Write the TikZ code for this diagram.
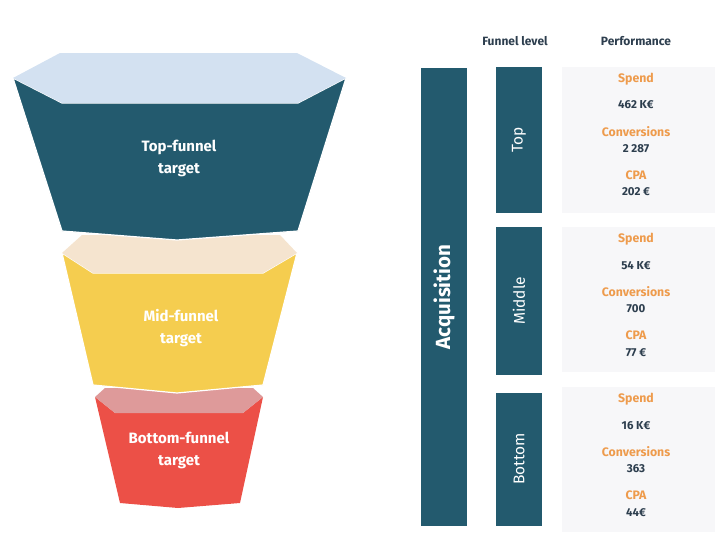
\documentclass[tikz,border=0pt]{standalone}
\usepackage{fontspec}
\setmainfont{Fira Sans}
\usetikzlibrary{positioning}

\definecolor{funneldark}{HTML}{235A6E}
\definecolor{toplight}{HTML}{D3E1F1}
\definecolor{midlight}{HTML}{F5E4CF}
\definecolor{midbody}{HTML}{F5CD4F}
\definecolor{botlight}{HTML}{DE9A9A}
\definecolor{botbody}{HTML}{EC5047}
\definecolor{perfbg}{HTML}{F7F7F9}
\definecolor{metric}{HTML}{EE9B4C}
\definecolor{valtext}{HTML}{2D3E4E}

\tikzset{
    funnellabel/.style={text=white, font=\fontsize{15}{22}\selectfont\bfseries, align=center},
    bar/.style={fill=funneldark, draw=none},
    perfbox/.style={fill=perfbg, draw=none},
    header/.style={text=valtext, font=\fontsize{12}{14}\selectfont\bfseries},
    metricname/.style={text=metric, font=\fontsize{12.3}{14}\selectfont\bfseries},
    metricval/.style={text=valtext, font=\fontsize{11.5}{14}\selectfont\bfseries},
    levelname/.style={text=white, rotate=90, font=\fontsize{15.5}{18}\selectfont}
}

\begin{document}
\begin{tikzpicture}[x=1pt, y=-1pt]
    \useasboundingbox (0,0) rectangle (717,538);

    % bottom funnel
    \fill[botbody] (95,397) -- (115,413) -- (243,413) -- (263,397)
        -- (240,503) -- (178,508) -- (120,503) -- cycle;
    \fill[botlight] (105,388) -- (253,388) -- (263,397) -- (243,413)
        -- (115,413) -- (95,397) -- cycle;

    % middle funnel
    \fill[midbody, draw=white, line width=1.2pt] (62,253) -- (93,273) -- (263,273) -- (297,253)
        -- (263,385) -- (177,393) -- (93,385) -- cycle;
    \fill[midlight] (82,235) -- (280,235) -- (297,253) -- (263,273)
        -- (93,273) -- (62,253) -- cycle;

    % top funnel
    \fill[funneldark, draw=white, line width=1.2pt] (13,78) -- (62,103) -- (298,103) -- (346,78)
        -- (298,231) -- (177,240) -- (62,231) -- cycle;
    \fill[toplight] (60,53) -- (297,53) -- (346,78) -- (298,103)
        -- (62,103) -- (13,78) -- cycle;

    \node[funnellabel] (toplabel) at (179,158) {Top-funnel\\target};
    \node[funnellabel] (midlabel) at (181,328) {Mid-funnel\\target};
    \node[funnellabel] (botlabel) at (179,450) {Bottom-funnel\\target};

    % table headers
    \node[header] (levelhead) at (515,41) {Funnel level};
    \node[header] (perfhead) at (636,41) {Performance};

    % acquisition bar
    \fill[bar] (421,68) rectangle (467,526);
    \node[text=white, rotate=90, font=\fontsize{20.5}{24}\selectfont\bfseries] (acq) at (444,297) {Acquisition};

    % funnel level bars
    \fill[bar] (496,67) rectangle (542,213);
    \node[levelname] (top) at (519,140) {Top};
    \fill[bar] (496,227) rectangle (542,375);
    \node[levelname] (middle) at (519,301) {Middle};
    \fill[bar] (496,393) rectangle (542,526);
    \node[levelname] (bottom) at (519,459) {Bottom};

    % performance boxes
    \fill[perfbox] (562,67) rectangle (715,213);
    \node[metricname] (spendA) at (636,79) {Spend};
    \node[metricval] (spendAval) at (636,105) {462 K€};
    \node[metricname] (convA) at (636,132) {Conversions};
    \node[metricval] (convAval) at (636,149) {2 287};
    \node[metricname] (cpaA) at (636,175) {CPA};
    \node[metricval] (cpaAval) at (636,192) {202 €};

    \fill[perfbox] (562,227) rectangle (715,372);
    \node[metricname] (spendB) at (636,239) {Spend};
    \node[metricval] (spendBval) at (636,266) {54 K€};
    \node[metricname] (convB) at (636,292) {Conversions};
    \node[metricval] (convBval) at (636,309) {700};
    \node[metricname] (cpaB) at (636,335) {CPA};
    \node[metricval] (cpaBval) at (636,353) {77 €};

    \fill[perfbox] (562,387) rectangle (715,532);
    \node[metricname] (spendC) at (636,399) {Spend};
    \node[metricval] (spendCval) at (636,426) {16 K€};
    \node[metricname] (convC) at (636,452) {Conversions};
    \node[metricval] (convCval) at (636,469) {363};
    \node[metricname] (cpaC) at (636,495) {CPA};
    \node[metricval] (cpaCval) at (636,513) {44€};
\end{tikzpicture}
\end{document}
